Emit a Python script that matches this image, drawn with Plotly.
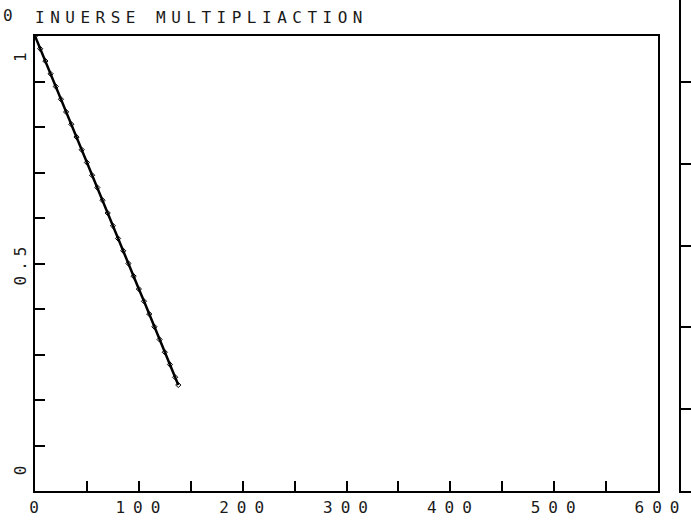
import plotly.graph_objects as go

# ---- data ----
x_vals = [0, 5, 10, 15, 20, 25, 30, 35, 40, 45, 50, 55, 60, 65, 70, 75, 80, 85,
          90, 95, 100, 105, 110, 115, 120, 125, 130, 135, 138]
y_vals = [1.000, 0.972, 0.945, 0.917, 0.889, 0.861, 0.833, 0.806, 0.778, 0.750,
          0.722, 0.694, 0.667, 0.639, 0.611, 0.583, 0.555, 0.528, 0.500, 0.472,
          0.444, 0.417, 0.389, 0.361, 0.333, 0.305, 0.278, 0.250, 0.233]

title_text = "INUERSE MULTIPLIACTION"
x_tick_vals = [0, 50, 100, 150, 200, 250, 300, 350, 400, 450, 500, 550, 600]
x_tick_text = ["0", "", "100", "", "200", "", "300", "", "400", "", "500", "", "600"]
y_label_vals = [0.05, 0.5, 0.958]
y_label_text = ["0", "0.5", "1"]
corner_label = "0"

FONT = "DejaVu Sans Mono"
INK = "#1a1a1a"

def spaced(s, px):
    return f'<span style="letter-spacing:{px}px">{s}</span>'

fig = go.Figure()
fig.add_trace(go.Scatter(
    x=x_vals, y=y_vals, mode="lines+markers",
    line=dict(color="black", width=2.5),
    marker=dict(symbol="diamond-open", size=4, color="black", line=dict(width=1)),
    xaxis="x", yaxis="y", showlegend=False, hoverinfo="skip"))

# second (cut-off) panel on the right edge: empty axes
fig.add_trace(go.Scatter(x=[None], y=[None], xaxis="x2", yaxis="y2",
                         showlegend=False, hoverinfo="skip"))

W, H = 691, 522
ML, MR, MT, MB = 35, 0, 0, 31
pw = W - ML - MR
ph = H - MT - MB
XSP = 8

fig.update_layout(
    width=W, height=H, autosize=False,
    margin=dict(l=ML, r=MR, t=MT, b=MB, pad=0, autoexpand=False),
    paper_bgcolor="white", plot_bgcolor="white",
    font=dict(family=FONT, color=INK, size=15),
    title=dict(text=spaced(title_text, 5.5), xref="paper", x=0.0, xanchor="left",
               yref="container", y=1 - 17 / H, yanchor="middle",
               font=dict(family=FONT, size=16, color=INK), automargin=False),
    xaxis=dict(domain=[0, (658 - ML) / pw], range=[0, 600], anchor="y",
               automargin=False,
               showline=True, linecolor="black", linewidth=2, mirror=True,
               showgrid=False, zeroline=False,
               ticks="inside", ticklen=10, tickwidth=2, tickcolor="black",
               tickmode="array", tickvals=x_tick_vals,
               ticktext=[spaced(t, XSP) if t else "" for t in x_tick_text],
               tickfont=dict(family=FONT, size=16, color=INK),
               ticklabelstandoff=1, ticklabelshift=3),
    yaxis=dict(domain=[0, 455 / ph], range=[0, 1], anchor="x",
               automargin=False,
               showline=True, linecolor="black", linewidth=2, mirror=True,
               showgrid=False, zeroline=False,
               ticks="inside", ticklen=10, tickwidth=2, tickcolor="black",
               dtick=0.1, tick0=0, showticklabels=False),
    xaxis2=dict(domain=[(681 - ML) / pw, 1], range=[0, 1], anchor="y2",
                automargin=False,
                showline=True, linecolor="black", linewidth=2, mirror=False,
                showgrid=False, zeroline=False, ticks="", showticklabels=False),
    yaxis2=dict(domain=[0, 1], range=[0, 6], anchor="x2",
                automargin=False,
                showline=True, linecolor="black", linewidth=2, mirror=False,
                showgrid=False, zeroline=False,
                ticks="inside", ticklen=10, tickwidth=2, tickcolor="black",
                dtick=1, showticklabels=False),
)

annotations = []
for v, t in zip(y_label_vals, y_label_text):
    annotations.append(dict(
        xref="paper", x=(20 - ML) / pw, xanchor="center",
        yref="y", y=v, yanchor="middle",
        text=spaced(t, 5), textangle=-90, showarrow=False,
        font=dict(family=FONT, size=16, color=INK)))
annotations.append(dict(
    xref="paper", x=(8 - ML) / pw, xanchor="center",
    yref="paper", y=(ph - 15) / ph, yanchor="middle",
    text=corner_label, showarrow=False,
    font=dict(family=FONT, size=16, color=INK)))
fig.update_layout(annotations=annotations)

fig.write_html("out.html", config={"responsive": False})
